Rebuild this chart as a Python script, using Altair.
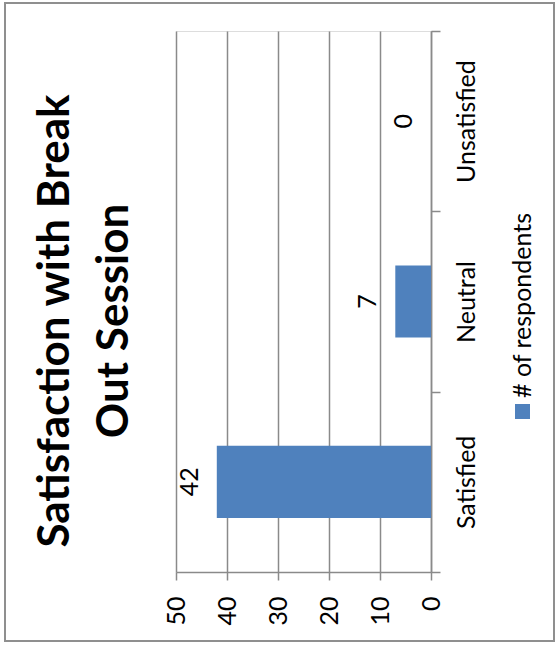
import altair as alt
import pandas as pd

categories = ["Satisfied", "Neutral", "Unsatisfied"]
respondents = [42, 7, 0]
value_ticks = [0, 10, 20, 30, 40, 50]
series_name = "# of respondents"
title_lines = ["Satisfaction with Break", "Out Session"]

df = pd.DataFrame({"category": categories, "value": respondents})
order = ["Unsatisfied", "Neutral", "Satisfied"]

FONT = "Lato"
GRAY = "#8a8a8a"
BLUE = "#4F81BD"

x_enc = alt.X(
    "value:Q",
    scale=alt.Scale(domain=[0, 50], reverse=True, nice=False),
    axis=alt.Axis(
        orient="bottom",
        values=value_ticks,
        title=None,
        labelAngle=-90,
        labelAlign="right",
        labelBaseline="middle",
        labelFontSize=25,
        labelFont=FONT,
        labelColor="black",
        labelPadding=16,
        tickSize=8,
        tickColor=GRAY,
        tickWidth=1.5,
        domainColor=GRAY,
        domainWidth=1.5,
        grid=True,
        gridColor=GRAY,
        gridWidth=1.5,
    ),
)
y_enc = alt.Y(
    "category:N",
    sort=order,
    scale=alt.Scale(paddingInner=0, paddingOuter=0),
    axis=alt.Axis(
        orient="right",
        title=None,
        labelAngle=-90,
        labelAlign="center",
        labelBaseline="top",
        labelFontSize=25,
        labelFont=FONT,
        labelColor="black",
        labelPadding=14,
        tickBand="extent",
        tickSize=9,
        tickColor=GRAY,
        tickWidth=1.5,
        domainColor=GRAY,
        domainWidth=1.5,
        grid=False,
    ),
)

bars = alt.Chart(df).mark_bar(color=BLUE, height={"band": 0.4}).encode(x=x_enc, y=y_enc)

labels = alt.Chart(df).mark_text(
    angle=270, align="center", baseline="middle", dy=-27,
    fontSize=25, font=FONT, color="black",
).encode(x="value:Q", y=alt.Y("category:N", sort=order), text="value:Q")

meta = pd.DataFrame({"name": [series_name]})
legend_box = alt.Chart(meta).mark_rect(color=BLUE).encode(
    x=alt.value(339), x2=alt.value(354), y=alt.value(373), y2=alt.value(388)
)
legend_text = alt.Chart(meta).mark_text(
    angle=270, align="left", baseline="middle", fontSize=25, font=FONT, color="black"
).encode(x=alt.value(347), y=alt.value(367), text="name:N")

title = alt.Chart(meta).mark_text(
    angle=270, align="center", baseline="middle", fontSize=44, font=FONT,
    fontWeight="bold", color="black", lineHeight=59,
).encode(x=alt.value(-120), y=alt.value(290), text=alt.value(title_lines))

frame = alt.Chart(meta).mark_rect(fill="transparent", stroke="#8f8f8f", strokeWidth=2).encode(
    x=alt.value(-171), x2=alt.value(378), y=alt.value(-28), y2=alt.value(610)
)

chart = alt.layer(frame, bars, labels, legend_box, legend_text, title).properties(
    width=255,
    height=541,
    autosize=alt.AutoSizeParams(type="none"),
    padding={"left": 176, "top": 31, "right": 127, "bottom": 73},
).configure_view(stroke=None).configure(background="white")

chart.save("out.html", embed_options={"renderer": "svg", "actions": False})
